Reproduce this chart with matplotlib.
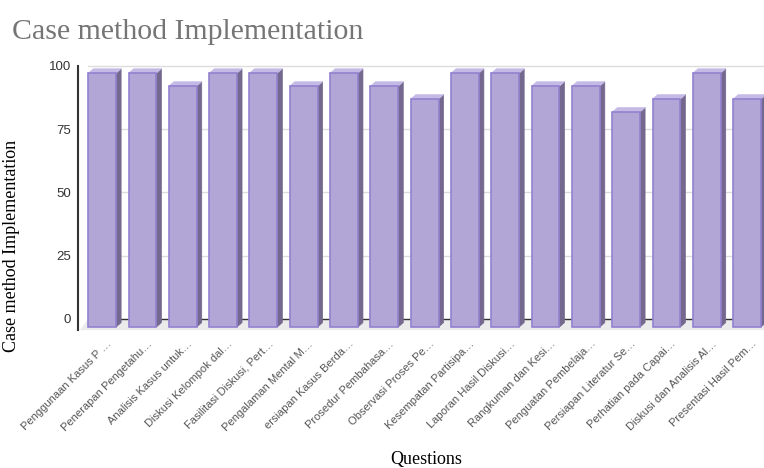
import matplotlib.pyplot as plt
from matplotlib.patches import Polygon

# data
questions = [
    'Penggunaan Kasus P …', 'Penerapan Pengetahu…', 'Analisis Kasus untuk…',
    'Diskusi Kelompok dal…', 'Fasilitasi Diskusi, Pert…', 'Pengalaman Mental M…',
    'ersiapan Kasus Berda…', 'Prosedur Pembahasa…', 'Observasi Proses Pe…',
    'Kesempatan Partisipa…', 'Laporan Hasil Diskusi…', 'Rangkuman dan Kesi…',
    'Penguatan Pembelaja…', 'Persiapan Literatur Se…', 'Perhatian pada Capai…',
    'Diskusi dan Analisis Al…', 'Presentasi Hasil Pem…',
]
scores = [98, 98, 93, 98, 98, 93, 98, 93, 88, 98, 98, 93, 93, 83, 88, 98, 88]
yticks = [0, 25, 50, 75, 100]

front = '#b2a6d7'
side = '#74688f'
top = '#c5bae6'
edge = '#9281cf'

# fake-3D geometry (data units)
bar_w = 0.69
bar_dx, bar_dy = 0.125, 1.7
wall_dx, wall_dy, wall_k = 0.25, 3.1, 0.978

fig = plt.figure(figsize=(7.64, 4.68), dpi=100)
ax = fig.add_axes([78 / 764, 137 / 468, 686 / 764, 271 / 468])
x0, x1 = -0.6, 16.42
y0, y1 = -1.54, 103.1
ax.set_xlim(x0, x1)
ax.set_ylim(y0, y1)

# back wall gridlines + floor
wall = [wall_dy + wall_k * v for v in yticks]
for v, w in zip(yticks, wall):
    if v == 0:
        ax.plot([x0 + wall_dx, x1], [w, w], color='#333333', lw=1.0, zorder=2)
    else:
        ax.plot([x0 + wall_dx, x1], [w, w], color='#dcdcdc', lw=1.0, zorder=1)
floor = Polygon([(x0 + 0.05, -1.2), (x0 + wall_dx, wall_dy), (x1, wall_dy), (x1, -1.2)],
                closed=True, facecolor='#ebebeb', edgecolor='none', zorder=1)
ax.add_patch(floor)

xs = list(range(len(scores)))
for x, v in zip(xs, scores):
    l, r = x - bar_w / 2, x + bar_w / 2
    ax.add_patch(Polygon([(r, 0), (r + bar_dx, bar_dy), (r + bar_dx, v + bar_dy), (r, v)],
                         closed=True, facecolor=side, edgecolor=side, lw=0.5, zorder=3))
    ax.add_patch(Polygon([(l, v), (l + bar_dx, v + bar_dy), (r + bar_dx, v + bar_dy), (r, v)],
                         closed=True, facecolor=top, edgecolor=top, lw=0.5, zorder=3))
ax.bar(xs, scores, width=bar_w, color=front, edgecolor=edge, linewidth=1.2, zorder=4)

for s in ['top', 'right', 'bottom']:
    ax.spines[s].set_visible(False)
ax.spines['left'].set_color('#333333')
ax.spines['left'].set_linewidth(1.5)
ax.spines['left'].set_bounds(-1.2, wall[-1])

ax.set_yticks(wall)
ax.set_yticklabels([str(v) for v in yticks])
ax.tick_params(axis='y', length=0, pad=5, labelsize=9.5, labelcolor='#333333')
ax.set_xticks([x + 0.2 for x in xs])
ax.set_xticklabels(questions, rotation=45, ha='right', va='center',
                   rotation_mode='anchor', fontsize=8, color='#555555')
ax.tick_params(axis='x', length=0, pad=8)
for t in ax.get_xticklabels() + ax.get_yticklabels():
    t.set_fontfamily('Liberation Sans')

ax.set_ylabel('Case method Implementation', fontfamily='Liberation Serif', fontsize=13, color='black')
ax.yaxis.set_label_coords(-0.085, 0.315)
ax.set_xlabel('Questions', fontfamily='Liberation Serif', fontsize=13, color='black')
ax.xaxis.label.set_va('baseline')
ax.xaxis.set_label_coords(0.508, -0.49)

fig.text(12 / 764, 429 / 468, 'Case method Implementation', fontfamily='Liberation Serif',
         fontsize=21.5, color='#757575', va='baseline', ha='left')

fig.savefig('out.png', dpi=100)
